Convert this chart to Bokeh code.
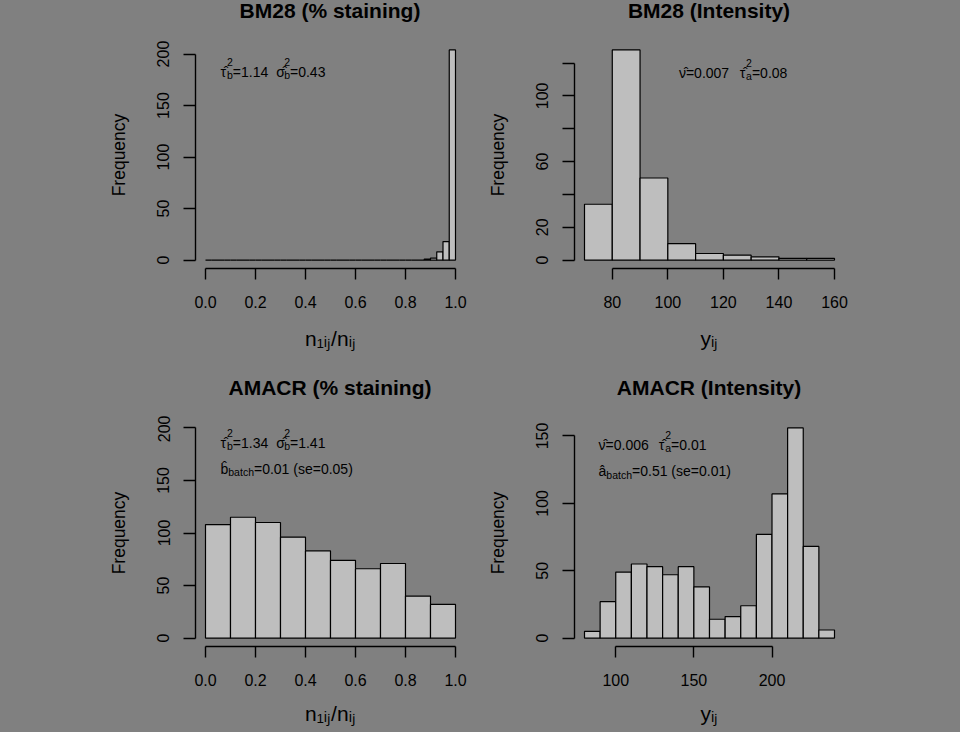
from bokeh.plotting import figure
from bokeh.models import Range1d, FixedTicker, Label, CustomJSTickFormatter, GlobalInlineStyleSheet, Div
from bokeh.layouts import column, row
from bokeh.embed import file_html
from bokeh.resources import INLINE

# ---------------- data ----------------
bm28_pct_breaks = [0.0, 0.025, 0.05, 0.075, 0.1, 0.125, 0.15, 0.175, 0.2, 0.225,
                   0.25, 0.275, 0.3, 0.325, 0.35, 0.375, 0.4, 0.425, 0.45, 0.475,
                   0.5, 0.525, 0.55, 0.575, 0.6, 0.625, 0.65, 0.675, 0.7, 0.725,
                   0.75, 0.775, 0.8, 0.825, 0.85, 0.875, 0.9, 0.925, 0.95, 0.975, 1.0]
bm28_pct_counts = [0, 0, 0, 0, 0, 0, 0, 0, 0, 0,
                   0, 0, 0, 0, 0, 0, 0, 0, 0, 0,
                   0, 0, 0, 0, 0, 0, 0, 0, 0, 0,
                   0, 0, 0, 0, 0, 1, 2, 8, 18, 204]

bm28_int_breaks = [70, 80, 90, 100, 110, 120, 130, 140, 150, 160]
bm28_int_counts = [34, 128, 50, 10, 4, 3, 2, 1, 1]

amacr_pct_breaks = [0.0, 0.1, 0.2, 0.3, 0.4, 0.5, 0.6, 0.7, 0.8, 0.9, 1.0]
amacr_pct_counts = [108, 115, 110, 96, 83, 74, 66, 71, 40, 32]

amacr_int_breaks = [80, 90, 100, 110, 120, 130, 140, 150, 160, 170, 180, 190, 200, 210, 220, 230, 240]
amacr_int_counts = [5, 27, 49, 55, 53, 47, 53, 38, 14, 16, 24, 77, 107, 156, 68, 6]

pct_xticks = [0.0, 0.2, 0.4, 0.6, 0.8, 1.0]
pct_xtick_labels = ["0.0", "0.2", "0.4", "0.6", "0.8", "1.0"]
bm28_pct_yticks = [0, 50, 100, 150, 200]
bm28_pct_ytick_labels = ["0", "50", "100", "150", "200"]
bm28_int_xticks = [80, 100, 120, 140, 160]
bm28_int_xtick_labels = ["80", "100", "120", "140", "160"]
bm28_int_yticks = [0, 20, 40, 60, 80, 100, 120]
bm28_int_ytick_labels = ["0", "20", "", "60", "", "100", ""]
amacr_pct_yticks = [0, 50, 100, 150, 200]
amacr_pct_ytick_labels = ["0", "50", "100", "150", "200"]
amacr_int_xticks = [100, 150, 200]
amacr_int_xtick_labels = ["100", "150", "200"]
amacr_int_yticks = [0, 50, 100, 150]
amacr_int_ytick_labels = ["0", "50", "100", "150"]

titles = ["BM28 (% staining)", "BM28 (Intensity)", "AMACR (% staining)", "AMACR (Intensity)"]
xlab_pct = "n\u2081\u1d62\u2c7c/n\u1d62\u2c7c"
xlab_int = "y\u1d62\u2c7c"
ylab = "Frequency"

# ---------------- style ----------------
BG = "#808080"
BAR = "#BEBEBE"
FONT = "Liberation Sans"
M, S = 14, 10.5   # main / script font sizes of the notes

WID = {'0': .556, '1': .556, '2': .556, '3': .556, '4': .556, '5': .556, '6': .556,
       '7': .556, '8': .556, '9': .556, '=': .584, '.': .278, ' ': .278, '(': .333,
       ')': .333, 's': .5, 'e': .556, 'a': .556, 'b': .556, 't': .278, 'c': .5,
       'h': .556, 'i': .222, 'j': .222, 'n': .556, 'y': .5, '/': .278,
       'τ': .46, 'σ': .57, 'ν': .5}


def twidth(s, size):
    return sum(WID.get(c, 0.0 if c == '\u0302' else .556) for c in s) * size


def rich(p, x, y, parts):
    cur = 0.0
    for txt, size, dy, mode in parts:
        if mode == 'g':
            cur += size
            continue
        p.add_layout(Label(x=x, y=y, x_offset=cur, y_offset=dy, text=txt,
                           text_font=FONT, text_font_size=f"{size}px",
                           text_baseline="alphabetic", text_align="left",
                           text_color="black"))
        if mode in ('n', 'e'):
            cur += twidth(txt, size)


def tick_formatter(tvals, tlabs):
    return CustomJSTickFormatter(args=dict(tvals=tvals, tlabs=tlabs), code="""
        for (let i = 0; i < tvals.length; i++) {
            if (Math.abs(tvals[i] - tick) < 1e-9) { return tlabs[i]; }
        }
        return "";
    """)


def title_div(text, w, h, shift, pad_top):
    html = ('<div style="width:%dpx;text-align:center;transform:translateX(%dpx);'
            'padding-top:%dpx;font-family:\'Liberation Sans\';font-size:21px;font-weight:bold;'
            'line-height:21px;color:black;white-space:nowrap;margin:0;">%s</div>'
            % (w, shift, pad_top, text))
    return Div(text=html, width=w, height=h, margin=0,
               styles={"background-color": BG, "overflow": "visible"})


def panel(title, breaks, counts, ylim, xticks, xlabels, yticks, ylabels,
          xlab, notes, w, h, bl, br, bt, bb, xlab_standoff):
    span = breaks[-1] - breaks[0]
    x0, x1 = breaks[0] - 0.04 * span, breaks[-1] + 0.04 * span
    yspan = ylim[1] - ylim[0]
    y0, y1 = ylim[0] - 0.04 * yspan, ylim[1] + 0.04 * yspan
    p = figure(width=w, height=h, x_range=Range1d(x0, x1), y_range=Range1d(y0, y1),
               output_backend="svg", toolbar_location=None, title_location=None,
               min_border_left=bl, min_border_right=br, min_border_top=bt, min_border_bottom=bb,
               background_fill_color=BG, border_fill_color=BG, outline_line_color=None)
    p.xgrid.visible = False
    p.ygrid.visible = False
    p.quad(left=breaks[:-1], right=breaks[1:], bottom=0, top=counts,
           fill_color=BAR, line_color="black", line_width=1.2)

    xa = p.xaxis[0]
    ya = p.yaxis[0]
    xa.ticker = FixedTicker(ticks=xticks, minor_ticks=[])
    xa.bounds = (xticks[0], xticks[-1])
    xa.formatter = tick_formatter(xticks, xlabels)
    ya.ticker = FixedTicker(ticks=yticks, minor_ticks=[])
    ya.bounds = (yticks[0], yticks[-1])
    ya.formatter = tick_formatter(yticks, ylabels)
    for ax in (xa, ya):
        ax.axis_line_width = 1.4
        ax.axis_line_color = "black"
        ax.major_tick_line_width = 1.4
        ax.major_tick_line_color = "black"
        ax.major_tick_in = 0
        ax.minor_tick_line_color = None
        ax.major_label_text_font = FONT
        ax.major_label_text_font_size = "16px"
        ax.major_label_text_color = "black"
        ax.axis_label_text_font = FONT
        ax.axis_label_text_font_style = "normal"
        ax.axis_label_text_color = "black"
    xa.major_tick_out = 11
    xa.major_label_standoff = 16
    xa.axis_label = xlab
    xa.axis_label_text_font_size = "21px"
    xa.axis_label_standoff = xlab_standoff
    ya.major_tick_out = 12
    ya.major_label_standoff = 14
    ya.major_label_orientation = "vertical"
    ya.axis_label = ylab
    ya.axis_label_text_font_size = "17.5px"
    ya.axis_label_standoff = 26

    for (nx, ny, parts) in notes:
        rich(p, nx, ny, parts)
    return p


def two_terms(sym1, sub1, val1, sym2, sub2, val2, gap):
    return [(sym1, M, 0, 'n'), ("2", S, 10, 's'), (sub1, S, -3.5, 'e'), (val1, M, 0, 'n'),
            (None, gap, 0, 'g'),
            (sym2, M, 0, 'n'), ("2", S, 10, 's'), (sub2, S, -3.5, 'e'), (val2, M, 0, 'n')]


notes1 = [(0.06, 183, two_terms("τ\u0302", "b", "=1.14", "σ\u0302", "b", "=0.43", 8))]
notes2 = [(104, 114, [("ν\u0302", M, 0, 'n'), ("=0.007", M, 0, 'n'), (None, 10.5, 0, 'g'),
                      ("τ\u0302", M, 0, 'n'), ("2", S, 10, 's'), ("a", S, -3.5, 'e'),
                      ("=0.08", M, 0, 'n')])]
notes3 = [(0.06, 186, two_terms("τ\u0302", "b", "=1.34", "σ\u0302", "b", "=1.41", 8)),
          (0.06, 161, [("b\u0302", M, 0, 'n'), ("batch", S, -3.5, 'e'),
                       ("=0.01 (se=0.05)", M, 0, 'n')])]
notes4 = [(89, 143.5, [("ν\u0302", M, 0, 'n'), ("=0.006", M, 0, 'n'), (None, 10, 0, 'g'),
                       ("τ\u0302", M, 0, 'n'), ("2", S, 10, 's'), ("a", S, -3.5, 'e'),
                       ("=0.01", M, 0, 'n')]),
          (89, 124, [("a\u0302", M, 0, 'n'), ("batch", S, -3.5, 'e'),
                     ("=0.51 (se=0.01)", M, 0, 'n')])]

# row 1: title strip 37px + figure 329px ; row 2: title strip 49px + figure 317px
p1 = panel(titles[0], bm28_pct_breaks, bm28_pct_counts, (0, max(bm28_pct_counts)),
           pct_xticks, pct_xtick_labels, bm28_pct_yticks, bm28_pct_ytick_labels,
           xlab_pct, notes1, 480, 329, 195, 15, 4, 98, 16)
p2 = panel(titles[1], bm28_int_breaks, bm28_int_counts, (0, max(bm28_int_counts)),
           bm28_int_xticks, bm28_int_xtick_labels, bm28_int_yticks, bm28_int_ytick_labels,
           xlab_int, notes2, 480, 329, 94, 116, 4, 98, 16)
p3 = panel(titles[2], amacr_pct_breaks, amacr_pct_counts, (0, 200),
           pct_xticks, pct_xtick_labels, amacr_pct_yticks, amacr_pct_ytick_labels,
           xlab_pct, notes3, 480, 317, 195, 15, 4, 86, 13)
p4 = panel(titles[3], amacr_int_breaks, amacr_int_counts, (0, max(amacr_int_counts)),
           amacr_int_xticks, amacr_int_xtick_labels, amacr_int_yticks, amacr_int_ytick_labels,
           xlab_int, notes4, 480, 317, 94, 116, 4, 86, 13)

t1 = title_div(titles[0], 480, 37, 90, 0)
t2 = title_div(titles[1], 480, 37, -11, 0)
t3 = title_div(titles[2], 480, 49, 90, 11)
t4 = title_div(titles[3], 480, 49, -11, 11)

layout = column(row(column(t1, p1), column(t2, p2)),
                row(column(t3, p3), column(t4, p4)))
layout.stylesheets = [GlobalInlineStyleSheet(css="body { background-color: #808080; }")]

open("out.html", "w").write(file_html(layout, INLINE))
